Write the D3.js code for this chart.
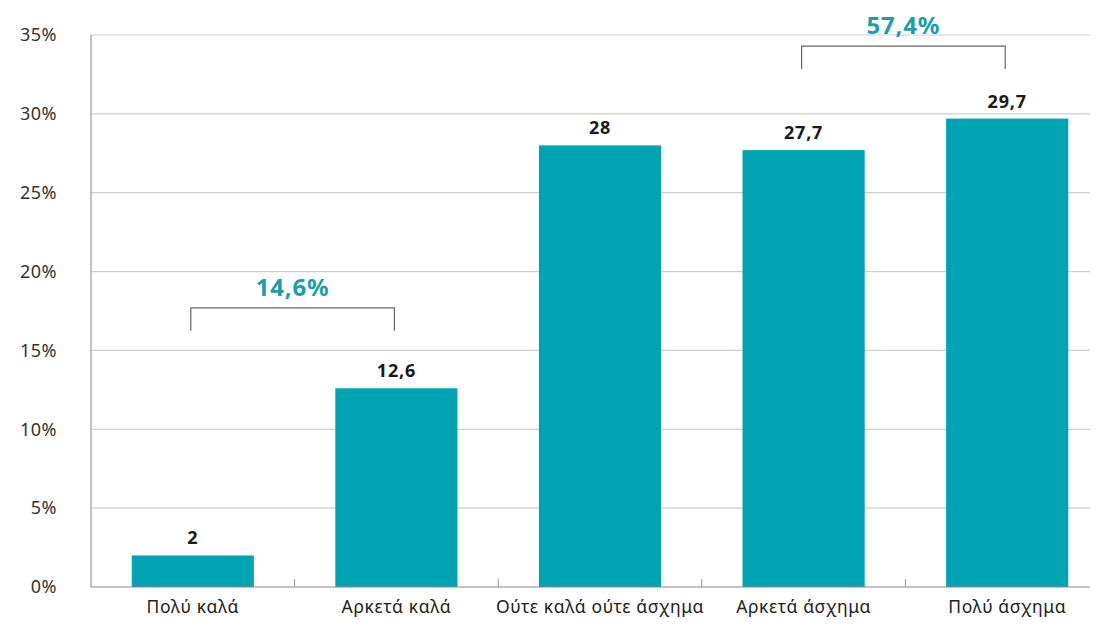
<!DOCTYPE html>
<html><head><meta charset="utf-8">
<script src="https://cdn.jsdelivr.net/npm/d3@7"></script>
<style>body{margin:0;background:#fff;font-family:"Noto Sans",sans-serif;}</style>
</head><body>
<svg id="c" width="1104" height="628"></svg>
<script>
const categories = ["Πολύ καλά","Αρκετά καλά","Ούτε καλά ούτε άσχημα","Αρκετά άσχημα","Πολύ άσχημα"];
const values = [2, 12.6, 28, 27.7, 29.7];
const valueLabels = ["2","12,6","28","27,7","29,7"];
const yTicks = [0,5,10,15,20,25,30,35];
const groups = [
  {from:0, to:1, label:"14,6%", level:17.7},
  {from:3, to:4, label:"57,4%", level:34.3}
];

const svg = d3.select("#c");
const x0 = 91, x1 = 1109, xEnd = 1090;
const x = d3.scaleBand().domain(categories).range([x0, x1]).paddingInner(0.4).paddingOuter(0.2);
const y = d3.scaleLinear().domain([0,35]).range([587, 35]);

svg.append("g").selectAll("line").data(yTicks.filter(d=>d>0)).join("line")
  .attr("x1", x0).attr("x2", xEnd).attr("y1", d=>y(d)).attr("y2", d=>y(d))
  .attr("stroke", "#d3cec8").attr("stroke-width", 1.2);

svg.append("g").selectAll("text").data(yTicks).join("text")
  .attr("x", 57).attr("y", d=>y(d)).attr("dy","0.35em").attr("text-anchor","end")
  .attr("font-size", 18).attr("fill","#333").attr("letter-spacing",0.5)
  .text(d=>d+"%");

svg.append("g").selectAll("rect").data(values).join("rect")
  .attr("x",(d,i)=>x(categories[i])).attr("width", x.bandwidth())
  .attr("y", d=>y(d)).attr("height", d=>y(0)-y(d)).attr("fill","#00A3B1");

svg.append("g").selectAll("text").data(values).join("text")
  .attr("x",(d,i)=>x(categories[i])+x.bandwidth()/2).attr("y", d=>y(d)-11)
  .attr("text-anchor","middle").attr("font-size",18).attr("font-weight",700).attr("fill","#1a1a1a")
  .attr("letter-spacing",0.8)
  .text((d,i)=>valueLabels[i]);

svg.append("line").attr("x1",x0).attr("x2",x0).attr("y1",y(35)).attr("y2",y(0)).attr("stroke","#999").attr("stroke-width",1.2);
svg.append("line").attr("x1",x0).attr("x2",xEnd).attr("y1",y(0)).attr("y2",y(0)).attr("stroke","#888").attr("stroke-width",1.2);
const seps = categories.slice(1).map(c => x(c) - x.step()*x.paddingInner()/2);
svg.append("g").selectAll("line").data(seps).join("line")
  .attr("x1",d=>d).attr("x2",d=>d).attr("y1",y(0)-8).attr("y2",y(0)).attr("stroke","#999");

svg.append("g").selectAll("text").data(categories).join("text")
  .attr("x", d=>x(d)+x.bandwidth()/2).attr("y", 613)
  .attr("text-anchor","middle").attr("font-size",17.5).attr("fill","#222").attr("letter-spacing",0.6)
  .text(d=>d);

groups.forEach(g=>{
  const xa = x(categories[g.from])+x.bandwidth()/2 - 2;
  const xb = x(categories[g.to])+x.bandwidth()/2 - 2;
  const yt = y(g.level);
  svg.append("path").attr("d",`M${xa},${yt+23}V${yt}H${xb}V${yt+23}`)
    .attr("fill","none").attr("stroke","#666").attr("stroke-width",1.2);
  svg.append("text").attr("x",(xa+xb)/2).attr("y",yt-12).attr("text-anchor","middle")
    .attr("font-size",24).attr("font-weight",700).attr("fill","#1a9faa").attr("letter-spacing",0.8).text(g.label);
});
</script>
</body></html>
